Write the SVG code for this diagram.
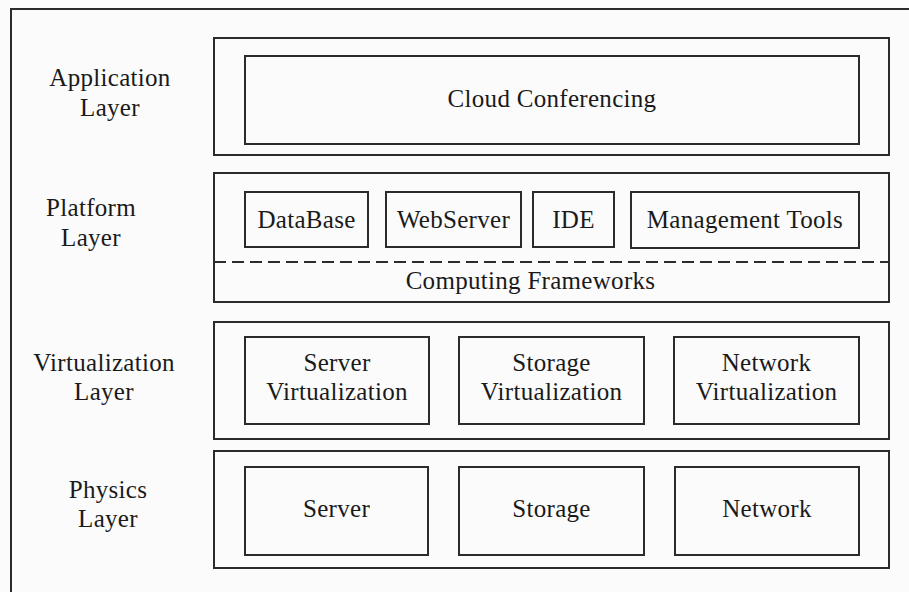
<svg xmlns="http://www.w3.org/2000/svg" width="909" height="592" viewBox="0 0 909 592">
<style>
.bg{fill:#fbfbfb}
.box{fill:none;stroke:#2b2b2b;stroke-width:2}
.t{font-family:"Liberation Serif","Times New Roman",serif;font-size:25px;fill:#1a1a1a;text-anchor:middle;letter-spacing:0.3px}
.dash{stroke:#2b2b2b;stroke-width:2;stroke-dasharray:12 6;fill:none}
</style>
<rect class="bg" x="0" y="0" width="909" height="592"/>
<g id="frame"><rect class="box" x="11" y="9" width="910" height="600"/></g>
<g id="labels">
<text class="t" x="110" y="86">Application</text>
<text class="t" x="110" y="116">Layer</text>
<text class="t" x="91" y="216">Platform</text>
<text class="t" x="91" y="246">Layer</text>
<text class="t" x="104" y="371">Virtualization</text>
<text class="t" x="104" y="400">Layer</text>
<text class="t" x="108" y="498">Physics</text>
<text class="t" x="108" y="527">Layer</text>
</g>
<g id="application-layer">
<rect class="box" x="214" y="38" width="675" height="117"/>
<g id="cloud-conferencing"><rect class="box" x="245" y="56" width="614" height="88"/><text class="t" x="552" y="107">Cloud Conferencing</text></g>
</g>
<g id="platform-layer">
<rect class="box" x="214" y="173" width="675" height="129"/>
<g id="database"><rect class="box" x="245" y="192" width="123" height="55"/><text class="t" x="306.5" y="228">DataBase</text></g>
<g id="webserver"><rect class="box" x="386" y="192" width="135" height="55"/><text class="t" x="453.5" y="228">WebServer</text></g>
<g id="ide"><rect class="box" x="533" y="192" width="81" height="55"/><text class="t" x="573.5" y="228">IDE</text></g>
<g id="management-tools"><rect class="box" x="631" y="192" width="228" height="56"/><text class="t" x="745" y="228">Management Tools</text></g>
<line class="dash" x1="214" y1="262" x2="889" y2="262"/>
<g id="computing-frameworks"><text class="t" x="530.5" y="289">Computing Frameworks</text></g>
</g>
<g id="virtualization-layer">
<rect class="box" x="214" y="322" width="675" height="117"/>
<g id="server-virtualization"><rect class="box" x="245" y="337" width="184" height="87"/><text class="t" x="337" y="371">Server</text><text class="t" x="337" y="400">Virtualization</text></g>
<g id="storage-virtualization"><rect class="box" x="459" y="337" width="185" height="87"/><text class="t" x="551.5" y="371">Storage</text><text class="t" x="551.5" y="400">Virtualization</text></g>
<g id="network-virtualization"><rect class="box" x="674" y="337" width="185" height="87"/><text class="t" x="766.5" y="371">Network</text><text class="t" x="766.5" y="400">Virtualization</text></g>
</g>
<g id="physics-layer">
<rect class="box" x="214" y="451" width="675" height="117"/>
<g id="server"><rect class="box" x="245" y="467" width="183" height="88"/><text class="t" x="336.5" y="517">Server</text></g>
<g id="storage"><rect class="box" x="459" y="467" width="185" height="88"/><text class="t" x="551.5" y="517">Storage</text></g>
<g id="network"><rect class="box" x="675" y="467" width="184" height="88"/><text class="t" x="767" y="517">Network</text></g>
</g>
<g id="connectors"></g>
</svg>
